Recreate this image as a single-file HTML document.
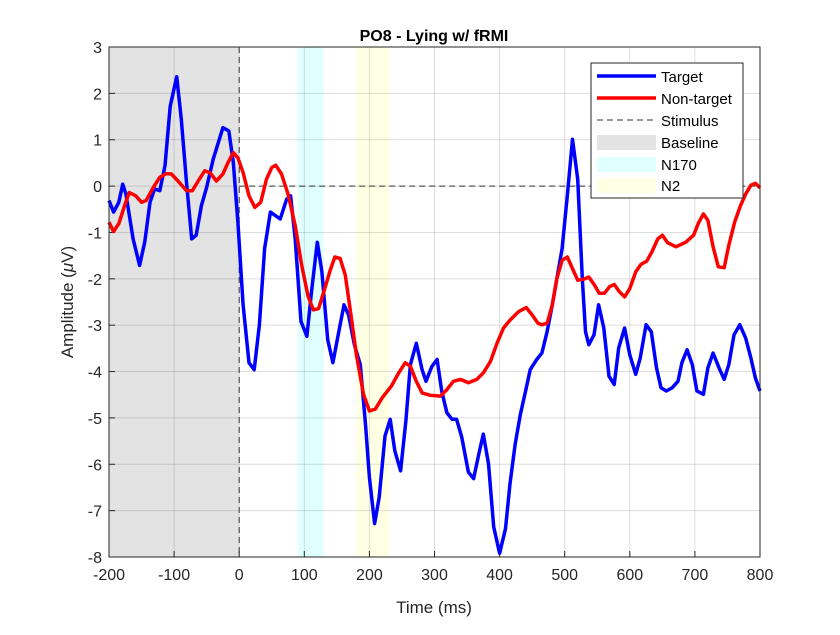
<!DOCTYPE html>
<html><head><meta charset="utf-8"><style>
body{margin:0;background:#fff;}
svg text{font-family:"Liberation Sans",Arial,sans-serif;}
</style></head><body>
<svg id="chart" width="840" height="630" xmlns="http://www.w3.org/2000/svg"></svg>
<script>
const xTicks=[-200,-100,0,100,200,300,400,500,600,700,800];
const yTicks=[3,2,1,0,-1,-2,-3,-4,-5,-6,-7,-8];
const targetT=[-200,-193,-185,-179,-174,-163,-153,-145,-137,-130,-122,-114,-106,-96,-89,-81,-73,-66,-58,-50,-40,-25,-16,-9,-2,6,15,23,31,39,48,63,73,79,86,95,104,111,120,127,136,144,153,161,168,177,186,194,200,208,215,224,232,239,248,256,263,272,281,287,296,304,311,319,327,334,342,352,360,368,375,383,391,400,409,416,424,432,440,447,457,465,473,481,488,496,504,512,520,527,532,537,545,552,560,568,576,583,592,600,609,616,625,633,641,648,656,665,674,680,688,696,703,713,720,728,737,745,752,760,769,778,786,793,800];
const targetV=[-0.31,-0.56,-0.35,0.04,-0.17,-1.14,-1.71,-1.2,-0.35,-0.06,-0.1,0.44,1.72,2.36,1.44,0.08,-1.14,-1.06,-0.42,-0.03,0.58,1.26,1.19,0.51,-0.78,-2.56,-3.81,-3.96,-2.99,-1.35,-0.56,-0.71,-0.28,-0.21,-1.14,-2.92,-3.24,-2.28,-1.21,-1.85,-3.31,-3.81,-3.14,-2.56,-2.78,-3.42,-3.85,-5.14,-6.28,-7.28,-6.71,-5.39,-5.03,-5.71,-6.14,-5.06,-3.85,-3.39,-3.96,-4.21,-3.89,-3.74,-4.42,-4.89,-5.03,-5.03,-5.42,-6.17,-6.31,-5.78,-5.35,-5.99,-7.35,-7.92,-7.39,-6.42,-5.56,-4.92,-4.42,-3.96,-3.74,-3.6,-3.14,-2.56,-1.99,-1.35,-0.21,1.01,0.15,-1.99,-3.14,-3.42,-3.21,-2.56,-3.06,-4.1,-4.28,-3.49,-3.06,-3.64,-4.06,-3.71,-2.99,-3.14,-3.92,-4.35,-4.42,-4.35,-4.21,-3.81,-3.53,-3.85,-4.42,-4.49,-3.92,-3.6,-3.92,-4.17,-3.85,-3.21,-2.99,-3.28,-3.71,-4.14,-4.42];
const nonT=[-200,-193,-185,-176,-169,-159,-150,-143,-132,-122,-112,-104,-94,-81,-72,-63,-53,-45,-35,-25,-17,-9,-2,6,15,24,33,42,50,56,65,75,86,96,106,114,122,130,140,147,155,163,171,180,191,200,209,220,234,245,255,263,272,281,293,309,319,329,340,352,365,375,386,396,406,416,429,441,450,459,465,473,481,488,496,504,512,520,529,537,546,553,561,569,576,584,592,600,609,617,626,634,643,650,658,671,686,698,705,713,720,728,736,745,752,761,770,778,786,793,800];
const nonV=[-0.78,-0.98,-0.81,-0.42,-0.14,-0.21,-0.35,-0.31,-0.03,0.19,0.27,0.26,0.11,-0.1,-0.1,0.11,0.33,0.29,0.11,0.26,0.51,0.72,0.61,0.29,-0.21,-0.46,-0.35,0.15,0.4,0.45,0.26,-0.17,-0.85,-1.71,-2.39,-2.67,-2.64,-2.28,-1.81,-1.53,-1.56,-1.92,-2.71,-3.64,-4.49,-4.85,-4.81,-4.56,-4.31,-4.03,-3.81,-3.89,-4.21,-4.46,-4.51,-4.53,-4.39,-4.21,-4.17,-4.24,-4.17,-4.03,-3.78,-3.39,-3.06,-2.89,-2.71,-2.62,-2.78,-2.96,-2.99,-2.96,-2.56,-1.99,-1.6,-1.53,-1.78,-2.03,-2.01,-1.96,-2.14,-2.31,-2.31,-2.17,-2.12,-2.28,-2.39,-2.21,-1.85,-1.69,-1.62,-1.42,-1.14,-1.06,-1.22,-1.31,-1.21,-1.06,-0.81,-0.6,-0.74,-1.31,-1.74,-1.76,-1.28,-0.78,-0.42,-0.17,0.02,0.06,-0.04];
const bands=[[-200,0],[90,130],[180,230]];

const L=109,R=760,T=47,B=557;
const sx=t=>L+(t+200)/1000*(R-L);
const sy=v=>T+(3-v)/11*(B-T);
const svg=document.getElementById('chart');
const NS='http://www.w3.org/2000/svg';
function mk(tag,attrs,parent){const e=document.createElementNS(NS,tag);for(const k in attrs)e.setAttribute(k,attrs[k]);(parent||svg).appendChild(e);return e;}

const bandCols=['#e3e3e3','#e0ffff','#ffffe3'];
const bandNames=['baseline-band','n170-band','n2-band'];
bands.forEach((b,i)=>{const r=mk('rect',{x:sx(b[0]),y:T,width:sx(b[1])-sx(b[0]),height:B-T,fill:bandCols[i]});

});

xTicks.forEach(t=>{const l=mk('line',{x1:sx(t),x2:sx(t),y1:T,y2:B,stroke:'#000','stroke-opacity':0.13,'stroke-width':1});


const tk=mk('line',{x1:sx(t),x2:sx(t),y1:B,y2:B-6,stroke:'#262626'});


const tx=mk('text',{x:sx(t),y:B+23,'text-anchor':'middle','font-size':16,fill:'#262626'});tx.textContent=t;

});
yTicks.forEach(v=>{const l=mk('line',{x1:L,x2:R,y1:sy(v),y2:sy(v),stroke:'#000','stroke-opacity':0.13,'stroke-width':1});


const tk=mk('line',{x1:L,x2:L+6,y1:sy(v),y2:sy(v),stroke:'#262626'});


const tx=mk('text',{x:L-7,y:sy(v)+6,'text-anchor':'end','font-size':16,fill:'#262626'});tx.textContent=v;

});

const st=mk('line',{x1:sx(0),x2:sx(0),y1:T,y2:B,stroke:'#333','stroke-dasharray':'6,4','stroke-width':1});


const zl=mk('line',{x1:sx(0),x2:R,y1:sy(0),y2:sy(0),stroke:'#333','stroke-dasharray':'6,4','stroke-width':1});



function series(ts,vs,col,name){const d=ts.map((t,i)=>(i?'L':'M')+sx(t).toFixed(1)+','+sy(vs[i]).toFixed(1)).join('');
const p=mk('path',{d:d,fill:'none',stroke:col,'stroke-width':3.5,'stroke-linejoin':'round'});

}
series(targetT,targetV,'#0000ff','target-line');
series(nonT,nonV,'#ff0000','non-target-line');
</script>
<svg width="840" height="630" style="position:absolute;left:0;top:0" xmlns="http://www.w3.org/2000/svg">
<rect x="109" y="47" width="651" height="510" fill="none" stroke="#262626" stroke-width="1"/>
<text x="434" y="41" text-anchor="middle" font-size="16" font-weight="bold" fill="#000">PO8 - Lying w/ fRMI</text>
<text x="434" y="613" text-anchor="middle" font-size="17" fill="#262626">Time (ms)</text>
<text transform="translate(73,302) rotate(-90)" text-anchor="middle" font-size="17" fill="#262626">Amplitude (<tspan font-style="italic">μ</tspan>V)</text>
<g>
<rect x="591" y="63" width="152" height="135" fill="#fff" stroke="#262626" stroke-width="1"/>
<line x1="597" x2="656" y1="76" y2="76" stroke="#0000ff" stroke-width="3.5"/>
<text x="661" y="82" font-size="15" fill="#000">Target</text>
<line x1="597" x2="656" y1="98" y2="98" stroke="#ff0000" stroke-width="3.5"/>
<text x="661" y="104" font-size="15" fill="#000">Non-target</text>
<line x1="597" x2="656" y1="120" y2="120" stroke="#333" stroke-dasharray="6,4"/>
<text x="661" y="126" font-size="15" fill="#000">Stimulus</text>
<rect x="597" y="135" width="59" height="15" fill="#e3e3e3"/>
<text x="661" y="148" font-size="15" fill="#000">Baseline</text>
<rect x="597" y="157" width="59" height="15" fill="#e0ffff"/>
<text x="661" y="170" font-size="15" fill="#000">N170</text>
<rect x="597" y="178" width="59" height="15" fill="#ffffe3"/>
<text x="661" y="191" font-size="15" fill="#000">N2</text>
</g>
</svg>
</body></html>
